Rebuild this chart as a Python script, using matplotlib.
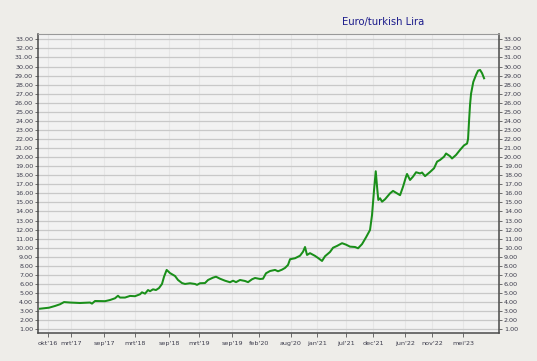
import matplotlib
matplotlib.use("Agg")
import matplotlib.pyplot as plt

# months since okt'16 and EUR/TRY rate
month = [-1.52, 0.19, 1.33, 2.29, 3.05, 4.19, 6.10, 8.00, 8.38, 8.95, 10.86, 11.81,
         12.76, 13.33, 13.71, 14.67, 15.62, 16.57, 17.52, 17.90, 18.48, 19.05, 19.43,
         20.00, 20.57, 21.14, 21.71, 22.10, 22.60, 23.24, 24.19, 24.76, 25.52, 26.10,
         27.05, 28.00, 28.38, 28.95, 29.90, 30.48, 31.43, 32.00, 32.76, 33.71, 34.67,
         35.24, 35.81, 36.57, 37.52, 38.10, 38.86, 39.43, 40.38, 40.95, 41.52, 42.29,
         43.24, 43.81, 44.57, 45.14, 45.71, 46.10, 47.05, 48.00, 48.57, 48.95, 49.33,
         49.90, 50.86, 51.43, 52.19, 52.76, 53.71, 54.29, 55.05, 56.00, 56.76, 57.52,
         58.48, 59.05, 59.81, 60.57, 61.33, 61.71, 62.10, 62.42, 62.72, 62.91, 63.24,
         63.62, 64.19, 65.14, 65.71, 66.48, 67.05, 67.62, 68.19, 68.38, 68.95, 69.52,
         70.10, 70.86, 71.24, 71.81, 72.76, 73.52, 74.10, 74.67, 75.43, 75.81, 76.57,
         76.95, 77.71, 78.48, 79.24, 79.81, 80.00, 80.19, 80.38, 80.57, 81.00, 81.52,
         81.90, 82.29, 82.67, 83.05]
rate = [3.27, 3.38, 3.57, 3.76, 4.00, 3.95, 3.90, 3.95, 3.83, 4.12, 4.10, 4.23,
        4.42, 4.70, 4.50, 4.50, 4.68, 4.65, 4.86, 5.08, 4.93, 5.33, 5.20,
        5.41, 5.33, 5.55, 6.00, 6.80, 7.55, 7.20, 6.88, 6.44, 6.10, 6.00,
        6.08, 6.00, 5.90, 6.08, 6.10, 6.44, 6.70, 6.80, 6.58, 6.36, 6.19,
        6.36, 6.20, 6.44, 6.33, 6.20, 6.52, 6.66, 6.55, 6.58, 7.18, 7.43,
        7.55, 7.40, 7.58, 7.77, 8.10, 8.73, 8.84, 9.12, 9.56, 10.08, 9.20,
        9.40, 9.10, 8.87, 8.54, 9.06, 9.53, 10.00, 10.20, 10.50, 10.34, 10.12,
        10.08, 9.94, 10.40, 11.15, 11.96, 13.60, 16.40, 18.44, 16.40, 15.27, 15.46,
        15.08, 15.35, 16.00, 16.27, 16.00, 15.80, 16.74, 17.85, 18.14, 17.48, 17.85,
        18.33, 18.20, 18.30, 17.90, 18.36, 18.77, 19.50, 19.69, 20.05, 20.40, 20.10,
        19.85, 20.24, 20.80, 21.30, 21.50, 22.00, 24.00, 25.80, 27.00, 28.30, 29.07,
        29.54, 29.62, 29.26, 28.70]

tick_pos = [0, 4.38, 10.67, 16.57, 23.05, 28.76, 35.05, 40.19, 46.29, 51.24,
            56.76, 61.9, 68.0, 73.14, 79.05]
tick_labels = ["okt'16", "mrt'17", "sep'17", "mrt'18", "sep'18", "mrt'19", "sep'19",
               "feb'20", "aug'20", "jan'21", "jul'21", "dec'21", "jun'22", "nov'22",
               "mei'23"]
y_ticks = list(range(1, 34))

BG = "#eeede9"
PANEL = "#f2f2f2"
LBL = "#3c3c4c"

fig = plt.figure(figsize=(5.37, 3.61), dpi=100, facecolor=BG)
ax = fig.add_axes([0.0708, 0.0776, 0.8585, 0.8295], facecolor=PANEL)

ax.plot(month, rate, color="#1a8f1a", lw=1.45, zorder=3)

ax.set_xlim(-1.9, 85.9)
ax.set_ylim(0.59, 33.64)
ax.set_xticks(tick_pos)
ax.set_xticklabels(tick_labels)
ax.set_yticks(y_ticks)
ax.set_yticklabels([f"{v:.2f}" for v in y_ticks])

ax.grid(axis="y", color="#c8c8c8", lw=0.9)
ax.grid(axis="x", color="#e6e6e6", lw=0.8)
ax.set_axisbelow(True)

ax.tick_params(axis="y", which="both", left=True, right=True, labelleft=True,
               labelright=True, length=2, width=0.6, color="#555555",
               labelsize=4.6, labelcolor=LBL, pad=1.5)
ax.tick_params(axis="x", length=3, width=0.6, color="#555555",
               labelsize=4.6, labelcolor=LBL, pad=3)

for s in ("left", "bottom", "right"):
    ax.spines[s].set_color("#4a4a4a")
    ax.spines[s].set_linewidth(1.1)
ax.spines["top"].set_color("#999999")
ax.spines["top"].set_linewidth(0.8)

fig.text(0.713, 0.939, "Euro/turkish Lira", ha="center", va="center",
         fontsize=7.2, color="#1c1c8c")

fig.savefig("out.png", dpi=100, facecolor=BG)
